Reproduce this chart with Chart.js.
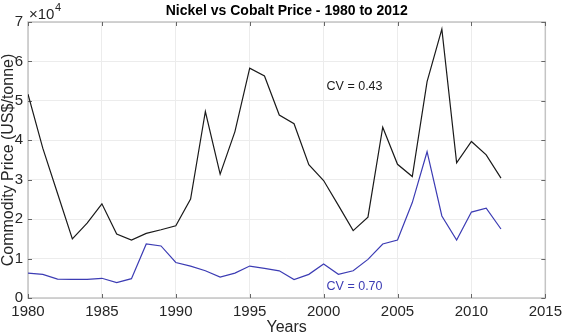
<!DOCTYPE html>
<html>
<head>
<meta charset="utf-8">
<script src="https://cdn.jsdelivr.net/npm/chart.js@4"></script>
<style>
  html, body { margin: 0; padding: 0; background: #fff; }
  #wrap { width: 567px; height: 333px; }
</style>
</head>
<body>
<div id="wrap"><canvas id="priceChart" width="567" height="333"></canvas></div>
<script>
// yearly prices, US$/tonne
const years = [1980, 1981, 1982, 1983, 1984, 1985, 1986, 1987, 1988, 1989,
  1990, 1991, 1992, 1993, 1994, 1995, 1996, 1997, 1998, 1999,
  2000, 2001, 2002, 2003, 2004, 2005, 2006, 2007, 2008, 2009,
  2010, 2011, 2012];

const nickel = [51700, 38000, 26500, 15000, 19000, 23900, 16200, 14700, 16400, 17300,
  18300, 25100, 47300, 31400, 42200, 58300, 56300, 46400, 44200, 33800,
  29800, 23500, 17100, 20500, 43300, 33900, 30800, 54900, 68200, 34300,
  39700, 36300, 30400];

const cobalt = [6300, 6000, 4800, 4700, 4700, 5000, 3900, 4900, 13700, 13200,
  9000, 8100, 6900, 5300, 6300, 8100, 7500, 6900, 4700, 6000,
  8600, 6000, 6900, 9800, 13700, 14700, 24200, 37100, 20800, 14700,
  21800, 22800, 17500];

const xTicks = [1980, 1985, 1990, 1995, 2000, 2005, 2010, 2015];
const yTicks = [0, 10000, 20000, 30000, 40000, 50000, 60000, 70000];

const notes = [
  { text: "CV = 0.43", x: 2000.2, y: 53600, color: "#1a1a1a" },
  { text: "CV = 0.70", x: 2000.2, y: 2900, color: "#3c3cb4" }
];

const FONT = "'Liberation Sans', Arial, sans-serif";

const toXY = (arr) => arr.map((v, i) => ({ x: years[i], y: v }));

// frame, side ticks and all the loose text (MATLAB look)
const decorations = {
  id: "decorations",
  beforeDatasetsDraw(chart) {
    const { ctx, chartArea: a, scales } = chart;
    ctx.save();
    ctx.strokeStyle = "#c4c4c4";
    ctx.lineWidth = 1.5;
    ctx.strokeRect(a.left, a.top, a.right - a.left, a.bottom - a.top);
    // small inward ticks on all four edges
    ctx.strokeStyle = "#666";
    ctx.lineWidth = 1;
    yTicks.forEach(v => {
      const py = Math.round(scales.y.getPixelForValue(v)) + 0.5;
      ctx.beginPath(); ctx.moveTo(a.right, py); ctx.lineTo(a.right - 4, py); ctx.stroke();
      ctx.beginPath(); ctx.moveTo(a.left, py); ctx.lineTo(a.left + 4, py); ctx.stroke();
    });
    xTicks.forEach(v => {
      const px = Math.round(scales.x.getPixelForValue(v)) + 0.5;
      ctx.beginPath(); ctx.moveTo(px, a.top); ctx.lineTo(px, a.top + 4); ctx.stroke();
      ctx.beginPath(); ctx.moveTo(px, a.bottom); ctx.lineTo(px, a.bottom - 4); ctx.stroke();
    });
    ctx.restore();
  },
  afterDraw(chart) {
    const { ctx, chartArea: a, scales } = chart;
    ctx.save();
    ctx.fillStyle = "#000";
    ctx.textAlign = "center";
    ctx.textBaseline = "middle";
    ctx.font = "bold 14px " + FONT;
    ctx.fillText("Nickel vs Cobalt Price - 1980 to 2012", (a.left + a.right) / 2, 11);

    ctx.fillStyle = "#262626";
    ctx.font = "15px " + FONT;
    ctx.textAlign = "left";
    ctx.fillText("\u00d710", 29, 15);
    const w = ctx.measureText("\u00d710").width;
    ctx.font = "11px " + FONT;
    ctx.fillText("4", 29 + w + 0.5, 8);

    ctx.font = "16px " + FONT;
    ctx.textAlign = "center";
    ctx.fillText("Years", (a.left + a.right) / 2, 328);

    ctx.save();
    ctx.translate(9, (a.top + a.bottom) / 2);
    ctx.rotate(-Math.PI / 2);
    ctx.fillText("Commodity Price (US$/tonne)", 0, 0);
    ctx.restore();

    ctx.font = "12.5px " + FONT;
    ctx.textAlign = "left";
    notes.forEach(n => {
      ctx.fillStyle = n.color;
      ctx.fillText(n.text, scales.x.getPixelForValue(n.x), scales.y.getPixelForValue(n.y));
    });
    ctx.restore();
  }
};

new Chart(document.getElementById("priceChart"), {
  type: "line",
  data: {
    datasets: [
      { label: "Nickel", data: toXY(nickel), borderColor: "#1a1a1a", borderWidth: 1.2,
        pointRadius: 0, tension: 0, fill: false },
      { label: "Cobalt", data: toXY(cobalt), borderColor: "#3c3cb4", borderWidth: 1.2,
        pointRadius: 0, tension: 0, fill: false }
    ]
  },
  options: {
    responsive: false,
    animation: false,
    layout: { padding: { top: 22, right: 14, left: 0, bottom: 0 } },
    plugins: { legend: { display: false }, title: { display: false }, tooltip: { enabled: false } },
    scales: {
      x: {
        type: "linear", min: 1980, max: 2015,
        afterBuildTicks: (s) => { s.ticks = xTicks.map(v => ({ value: v })); },
        afterFit: (s) => { s.height = 35; },
        grid: { color: "#ececec", drawTicks: false },
        border: { display: false },
        ticks: { color: "#262626", font: { family: FONT, size: 15 }, padding: 5, maxRotation: 0,
          callback: (v) => String(v) }
      },
      y: {
        min: 0, max: 70000,
        afterBuildTicks: (s) => { s.ticks = yTicks.map(v => ({ value: v })); },
        afterFit: (s) => { s.width = 28; },
        grid: { color: "#ececec", drawTicks: false },
        border: { display: false },
        ticks: { color: "#262626", font: { family: FONT, size: 15 }, padding: 5,
          callback: (v) => String(v / 10000) }
      }
    }
  },
  plugins: [decorations]
});
</script>
</body>
</html>
